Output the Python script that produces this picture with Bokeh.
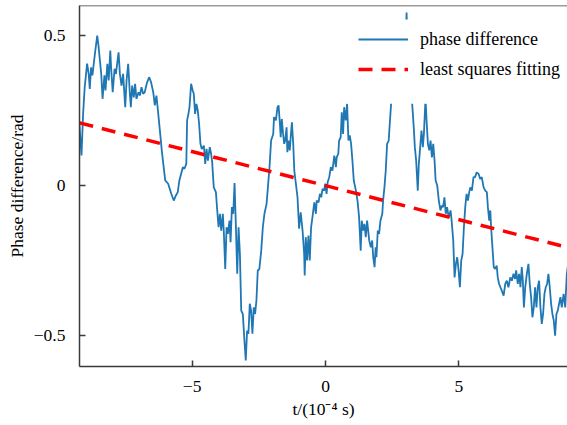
from bokeh.plotting import figure
from bokeh.models import Range1d, FixedTicker, Legend, LegendItem, Span
from bokeh.embed import file_html
from bokeh.resources import INLINE

# ---- data (t in 1e-4 s, phase in rad) ----
t_a = [-9.24, -9.15, -9.09, -9.03, -8.94, -8.88, -8.84, -8.79, -8.74, -8.69,
       -8.64, -8.56, -8.52, -8.46, -8.41, -8.36, -8.29, -8.25, -8.18, -8.13,
       -8.07, -8.04, -7.98, -7.91, -7.86, -7.76, -7.71, -7.65, -7.59, -7.51,
       -7.46, -7.40, -7.34, -7.30, -7.25, -7.19, -7.14, -7.09, -7.01, -6.96,
       -6.90, -6.84, -6.78, -6.69, -6.61, -6.54, -6.46, -6.40, -6.34, -6.29,
       -6.21, -6.14, -6.09, -6.01, -5.90, -5.78, -5.69, -5.61]
y_a = [0.217, 0.100, 0.239, 0.328, 0.406, 0.372, 0.322, 0.394, 0.367, 0.406,
       0.444, 0.500, 0.472, 0.417, 0.372, 0.289, 0.367, 0.317, 0.406, 0.350,
       0.450, 0.394, 0.311, 0.389, 0.372, 0.444, 0.372, 0.333, 0.372, 0.261,
       0.350, 0.406, 0.311, 0.261, 0.333, 0.294, 0.339, 0.289, 0.311, 0.300,
       0.328, 0.306, 0.311, 0.344, 0.361, 0.344, 0.311, 0.267, 0.300, 0.256,
       0.183, 0.117, 0.078, 0.017, 0.006, -0.028, -0.050, -0.033]

t_b = [-5.54, -5.48, -5.35, -5.29, -5.22, -5.19, -5.14, -5.10, -5.04, -4.98,
       -4.94, -4.89, -4.84, -4.79, -4.74, -4.69, -4.64, -4.56, -4.51, -4.46,
       -4.41, -4.34, -4.29, -4.25, -4.19, -4.11, -4.06, -4.01, -3.96, -3.91,
       -3.85, -3.81, -3.76, -3.71, -3.66, -3.60, -3.56, -3.51, -3.46, -3.41,
       -3.36, -3.31, -3.26, -3.21, -3.16, -3.10, -3.04, -2.99, -2.94, -2.89,
       -2.84, -2.79, -2.74, -2.69, -2.64, -2.59, -2.54, -2.48, -2.41, -2.35,
       -2.29, -2.21, -2.16, -2.10, -2.04, -1.96]
y_b = [-0.022, 0.017, 0.061, 0.056, 0.072, 0.217, 0.239, 0.261, 0.339, 0.317,
       0.306, 0.239, 0.272, 0.250, 0.206, 0.139, 0.122, 0.133, 0.072, 0.122,
       0.083, 0.128, 0.106, 0.078, -0.006, -0.022, -0.083, -0.139, -0.094, -0.150,
       -0.094, -0.161, -0.278, -0.139, -0.161, -0.117, -0.189, -0.072, -0.094, 0.008,
       -0.139, -0.294, -0.139, -0.228, -0.417, -0.428, -0.517, -0.583, -0.483, -0.494,
       -0.394, -0.417, -0.494, -0.406, -0.428, -0.383, -0.283, -0.278, -0.217, -0.139,
       -0.094, -0.061, -0.006, 0.061, 0.150, 0.172]

t_c = [-1.93, -1.86, -1.80, -1.76, -1.71, -1.68, -1.64, -1.59, -1.55, -1.51,
       -1.46, -1.43, -1.39, -1.34, -1.30, -1.26, -1.21, -1.17, -1.11, -1.05,
       -0.99, -0.93, -0.86, -0.80, -0.78, -0.74, -0.69, -0.64, -0.59, -0.54,
       -0.49, -0.42, -0.36, -0.33, -0.26, -0.21, -0.16, -0.11, -0.05, -0.01,
       0.04, 0.08, 0.14, 0.20, 0.26, 0.33, 0.39, 0.42, 0.48, 0.51,
       0.57, 0.61, 0.66, 0.70, 0.76, 0.81, 0.86, 0.91, 0.96, 1.01,
       1.06, 1.14, 1.20, 1.26, 1.32, 1.36, 1.41, 1.46, 1.51, 1.56,
       1.64, 1.70]
y_c = [0.228, 0.217, 0.261, 0.267, 0.206, 0.161, 0.222, 0.172, 0.139, 0.150,
       0.194, 0.111, 0.150, 0.117, 0.167, 0.211, 0.139, 0.050, 0.006, -0.039,
       -0.144, -0.089, -0.150, -0.228, -0.300, -0.172, -0.250, -0.167, -0.250, -0.139,
       -0.106, -0.056, -0.094, -0.050, -0.056, -0.028, -0.039, -0.011, -0.017, 0.006,
       -0.028, 0.011, 0.028, 0.061, 0.050, 0.100, 0.061, 0.094, 0.106, 0.150,
       0.161, 0.244, 0.172, 0.261, 0.217, 0.272, 0.150, 0.167, 0.139, 0.083,
       0.017, -0.017, -0.050, -0.106, -0.217, -0.117, -0.150, -0.128, -0.172, -0.117,
       -0.183, -0.206]

t_d = [1.75, 1.79, 1.84, 1.88, 1.91, 1.96, 2.01, 2.06, 2.13, 2.16,
       2.21, 2.26, 2.31, 2.37, 2.41, 2.46,
       2.52, 2.59, 2.66, 2.74, 2.81, 2.89, 2.96, 3.00, 3.04, 3.08, 3.13, 3.19,
       3.25, 3.31, 3.35, 3.40, 3.46, 3.50, 3.56, 3.60, 3.65, 3.69,
       3.75, 3.79, 3.84, 3.89, 3.94, 3.99, 4.04, 4.09, 4.13, 4.19,
       4.25, 4.31, 4.36, 4.41, 4.46, 4.51, 4.56, 4.62, 4.69, 4.73,
       4.79, 4.84, 4.89, 4.94, 4.99, 5.04, 5.09, 5.14, 5.19, 5.24,
       5.29, 5.34, 5.39]
y_d = [-0.183, -0.239, -0.272, -0.206, -0.239, -0.150, -0.161, -0.117, -0.094, -0.050,
       -0.006, 0.050, 0.139, 0.150, 0.206, 0.272,
       0.33, 0.38, 0.44, 0.40, 0.47, 0.42, 0.48, 0.45, 0.577, 0.45, 0.39, 0.33,
       0.272, 0.194, 0.128, 0.083, -0.017, 0.072, 0.139, 0.183, 0.128, 0.172,
       0.290, 0.217, 0.139, 0.117, 0.150, 0.094, 0.139, 0.083, 0.017, 0.000,
       -0.050, -0.083, -0.067, -0.072, -0.039, -0.094, -0.072, -0.106, -0.083, -0.117,
       -0.183, -0.306, -0.261, -0.239, -0.283, -0.339, -0.250, -0.228, -0.139, -0.072,
       -0.028, -0.050, -0.022]

t_e = [5.43, 5.49, 5.55, 5.61, 5.67, 5.74, 5.80, 5.86, 5.93, 5.99,
       6.05, 6.09, 6.14, 6.18, 6.21, 6.26, 6.31, 6.36, 6.42, 6.46,
       6.51, 6.56, 6.61, 6.68, 6.74, 6.80, 6.86, 6.93, 6.99, 7.05,
       7.11, 7.15, 7.21, 7.26, 7.31, 7.36, 7.40, 7.44, 7.49, 7.55,
       7.61, 7.66, 7.71, 7.76, 7.81, 7.86, 7.91, 7.96, 8.01, 8.06,
       8.11, 8.16, 8.21, 8.26, 8.31, 8.36, 8.41, 8.46, 8.51, 8.56,
       8.61, 8.66, 8.71, 8.76, 8.81, 8.86, 8.93, 8.99, 9.05, 9.10]
y_e = [-0.006, -0.017, 0.028, 0.028, 0.044, 0.039, 0.022, 0.028, -0.006, -0.017,
       -0.022, -0.072, -0.117, -0.083, -0.139, -0.206, -0.272, -0.278, -0.267, -0.306,
       -0.328, -0.339, -0.350, -0.367, -0.328, -0.317, -0.339, -0.306, -0.317, -0.294,
       -0.311, -0.283, -0.328, -0.294, -0.339, -0.272, -0.317, -0.406, -0.339, -0.294,
       -0.261, -0.328, -0.372, -0.439, -0.406, -0.339, -0.406, -0.339, -0.317, -0.406,
       -0.461, -0.428, -0.361, -0.339, -0.328, -0.294, -0.339, -0.394, -0.428, -0.450,
       -0.500, -0.428, -0.417, -0.394, -0.372, -0.406, -0.361, -0.406, -0.294, -0.260]

t_values = t_a + t_b + t_c + t_d + t_e
phase_values = y_a + y_b + y_c + y_d + y_e

fit_t = [-9.225, 9.075]
fit_phase = [0.209, -0.206]

x_ticks = [-5, 0, 5]
x_tick_labels = {-5: "\u22125", 0: "0", 5: "5"}
y_ticks = [-0.5, 0, 0.5]
y_tick_labels = {-0.5: "\u22120.5", 0: "0", 0.5: "0.5"}

FONT = "Liberation Serif"
AXC = "#3a3a3a"

p = figure(width=567, height=425, output_backend="svg", toolbar_location=None,
           x_range=Range1d(-9.225, 9.075), y_range=Range1d(-0.603, 0.6),
           min_border_left=79, min_border_right=0, min_border_top=5,
           min_border_bottom=59)
p.outline_line_color = None
p.grid.visible = False
p.background_fill_color = "white"
p.border_fill_color = "white"

r1 = p.line(t_values, phase_values, line_color="#1f77b4", line_width=1.8)
r2 = p.line(fit_t, fit_phase, line_color="#ff0000", line_width=3.5, line_dash="14 9")

# opaque backdrop behind the legend (the legend box hides the curve there)
p.quad(left=0.94, right=9.3, bottom=0.273, top=0.553,
       fill_color="white", line_color=None)

for ax in (p.xaxis[0], p.yaxis[0]):
    ax.axis_line_color = AXC
    ax.axis_line_width = 1.5
    ax.major_tick_line_color = AXC
    ax.major_tick_line_width = 1.5
    ax.major_tick_in = 6
    ax.major_tick_out = 0
    ax.minor_tick_line_color = None
    ax.major_label_text_font = FONT
    ax.major_label_text_font_size = "17.5px"
    ax.major_label_text_color = "black"
    ax.axis_label_text_font = FONT
    ax.axis_label_text_font_size = "17.5px"
    ax.axis_label_text_font_style = "normal"
    ax.axis_label_text_color = "black"

p.xaxis.ticker = FixedTicker(ticks=x_ticks)
p.xaxis.major_label_overrides = x_tick_labels
p.xaxis.major_label_standoff = 14
p.xaxis.axis_label = "t/(10\u207b\u2074 s)"
p.xaxis.axis_label_standoff = 4

p.yaxis.ticker = FixedTicker(ticks=y_ticks)
p.yaxis.major_label_overrides = y_tick_labels
p.yaxis.major_label_standoff = 14
p.yaxis.axis_label = "Phase difference/rad"
p.yaxis.axis_label_standoff = 4

# top spine
p.add_layout(Span(location=0.6, dimension="width", line_color=AXC, line_width=1.5))

legend = Legend(items=[LegendItem(label="phase difference", renderers=[r1]),
                       LegendItem(label="least squares fitting", renderers=[r2])],
                location=(279, 282))
legend.border_line_color = None
legend.background_fill_color = "white"
legend.background_fill_alpha = 1.0
legend.padding = 8
legend.spacing = 0
legend.margin = 0
legend.glyph_width = 50
legend.glyph_height = 30
legend.label_height = 30
legend.label_standoff = 12
legend.label_text_font = FONT
legend.label_text_font_size = "18px"
legend.label_text_color = "black"
p.add_layout(legend)

open("out.html", "w").write(file_html(p, INLINE))
